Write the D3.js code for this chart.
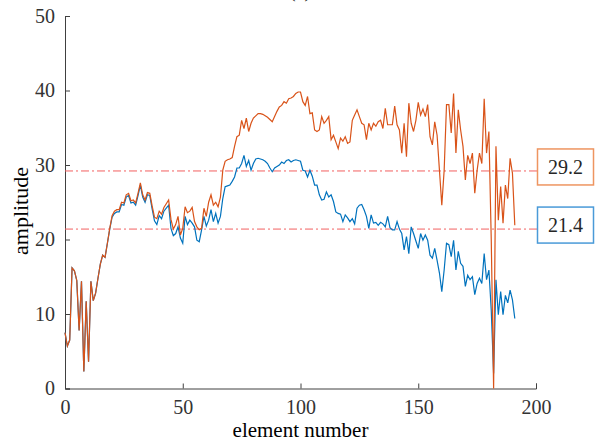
<html>
<head>
<script src="https://d3js.org/d3.v7.min.js"></script>
<style>
  body { margin: 0; background: #fff; }
</style>
</head>
<body>
<div id="chart"></div>
<script>
// amplitude per element (orange = upper curve, blue = lower curve)
var orangeVals = [7.5, 5.7, 6.5, 16.2, 15.8, 14.5, 7.8, 14.4, 2.3, 11.7, 3.6, 14.4, 11.8, 12.8, 14.8, 16.7, 17.9, 17.6, 19.5, 21.5,
  23.2, 23.8, 24.0, 24.0, 25.0, 24.9, 26.0, 26.2, 25.2, 25.3, 24.9, 26.2, 27.6, 26.0, 25.3, 26.3, 26.2, 24.5, 23.0, 22.8,
  23.8, 23.4, 24.3, 24.8, 25.3, 22.7, 21.4, 22.0, 23.1, 20.6, 21.5, 24.4, 23.6, 23.8, 24.3, 22.4, 21.7, 21.3, 21.5, 24.2,
  23.1, 25.0, 26.0, 24.6, 25.0, 24.4, 25.7, 29.3, 30.5, 30.7, 30.8, 31.0, 32.5, 33.8, 34.0, 36.0, 34.9, 36.3, 34.5, 35.6,
  36.3, 36.6, 36.9, 36.9, 36.8, 36.6, 36.4, 36.1, 35.8, 36.5, 37.2, 37.8, 38.0, 38.5, 38.3, 38.9, 39.0, 39.2, 39.6, 39.8,
  39.8, 38.5, 38.0, 39.2, 36.9, 37.0, 34.7, 34.5, 34.7, 36.5, 35.6, 36.0, 36.5, 33.4, 34.0, 33.1, 32.2, 33.6, 33.2, 33.8,
  32.9, 33.1, 36.0, 36.7, 37.4, 36.5, 35.6, 35.4, 33.4, 35.6, 34.7, 35.6, 35.2, 35.8, 36.0, 34.9, 37.6, 35.4, 35.4, 35.4,
  37.9, 35.4, 34.7, 31.6, 35.6, 31.1, 38.3, 35.6, 34.5, 36.0, 38.4, 36.7, 37.5, 36.5, 38.1, 33.8, 32.7, 35.8, 34.0, 29.3,
  24.6, 29.3, 38.1, 38.1, 34.3, 39.6, 31.6, 37.4, 34.7, 32.5, 28.0, 31.3, 30.2, 31.6, 26.2, 29.3, 31.6, 30.2, 38.9, 31.6,
  34.5, 20.0, 0, 32.5, 22.6, 27.1, 22.2, 27.3, 25.5, 30.9, 28.9, 21.9];
var blueVals = [7.5, 5.7, 6.5, 16.2, 15.8, 14.5, 7.8, 14.4, 2.3, 11.7, 3.6, 14.4, 11.8, 12.8, 14.8, 16.7, 17.9, 17.6, 19.5, 21.4,
  23.0, 23.5, 23.7, 23.7, 24.7, 24.6, 25.7, 25.9, 24.9, 25.0, 24.6, 25.9, 27.3, 25.7, 25.0, 26.0, 25.9, 24.1, 22.5, 22.0,
  23.2, 22.8, 23.8, 24.2, 24.6, 21.5, 20.5, 20.8, 21.7, 20.2, 19.5, 23.1, 22.0, 22.6, 22.2, 21.7, 19.9, 19.7, 21.3, 23.1,
  21.8, 22.6, 24.0, 22.4, 23.5, 22.2, 23.1, 25.5, 27.1, 27.2, 27.3, 27.8, 28.4, 29.6, 29.6, 30.2, 31.3, 29.8, 30.6, 29.3,
  30.2, 30.8, 30.9, 30.8, 30.7, 30.5, 30.2, 29.6, 29.1, 29.6, 29.8, 30.0, 30.4, 30.2, 30.6, 30.7, 30.4, 30.6, 30.7, 30.6,
  30.5, 29.3, 29.2, 28.4, 29.3, 28.5, 27.3, 27.3, 26.0, 25.3, 25.4, 26.4, 25.7, 26.0, 25.1, 23.7, 23.5, 23.4, 22.4, 23.3,
  22.9, 22.4, 22.8, 22.1, 24.2, 24.6, 24.7, 24.0, 23.1, 21.5, 23.3, 22.2, 22.3, 21.9, 22.3, 22.1, 21.7, 23.1, 21.6, 21.3,
  21.3, 22.4, 21.4, 20.8, 18.6, 20.4, 18.1, 21.7, 20.8, 19.8, 18.8, 20.8, 19.9, 20.6, 19.9, 17.9, 17.5, 18.8, 17.2, 15.5,
  13.0, 15.9, 19.5, 19.3, 17.7, 19.9, 15.9, 18.4, 16.8, 16.4, 13.7, 15.2, 14.6, 15.0, 12.6, 14.1, 14.8, 14.1, 18.1, 14.6,
  15.9, 10.5, 2.0, 14.6, 9.9, 13.0, 9.9, 12.5, 11.5, 13.2, 11.9, 9.4];
var thresholds = [29.2, 21.4];
var xTicks = [0, 50, 100, 150, 200];
var yTicks = [0, 10, 20, 30, 40, 50];

var width = 595, height = 441;
var margin = { top: 16, right: 59, bottom: 52.5, left: 65 };
var orange = "#D95319", blue = "#0072BD", axisCol = "#404040";
var serif = '"Liberation Serif", "Times New Roman", "DejaVu Serif", serif';

var svg = d3.select("#chart").append("svg")
  .attr("width", width).attr("height", height);

var x = d3.scaleLinear().domain([0, 200]).range([margin.left, width - margin.right]);
var y = d3.scaleLinear().domain([0, 50]).range([height - margin.bottom, margin.top]);

// title, mostly clipped at the top edge (as in the source figure)
svg.append("text").attr("x", 300).attr("y", -3).attr("text-anchor", "middle")
  .style("font-family", serif).style("font-size", "20px").attr("fill", "#262626").text("(a)");

// axes (ticks point inward like MATLAB)
var xAxis = svg.append("g").attr("transform", `translate(0,${y(0)})`)
  .call(d3.axisBottom(x).tickValues(xTicks).tickSize(-5).tickPadding(11));
var yAxis = svg.append("g").attr("transform", `translate(${x(0)},0)`)
  .call(d3.axisLeft(y).tickValues(yTicks).tickSize(-5).tickPadding(10));
[xAxis, yAxis].forEach(function (g) {
  g.select(".domain").attr("stroke", axisCol);
  g.selectAll(".tick line").attr("stroke", axisCol);
  g.selectAll("text").style("font-family", serif).style("font-size", "20px").attr("fill", "#333");
});

svg.append("text").attr("x", x(100)).attr("y", 437).attr("text-anchor", "middle")
  .style("font-family", serif).style("font-size", "21px").attr("fill", "#000").text("element number");
svg.append("text").attr("transform", "translate(28,211) rotate(-90)")
  .attr("text-anchor", "middle").style("font-family", serif).style("font-size", "22px")
  .attr("fill", "#000").text("amplitude");

// threshold lines
svg.selectAll(".thr").data(thresholds).enter().append("line")
  .attr("x1", x(0)).attr("x2", 537)
  .attr("y1", d => y(d)).attr("y2", d => y(d))
  .attr("stroke", "#F26060").attr("stroke-width", 1)
  .attr("stroke-dasharray", "8,3,2,3");

var line = d3.line().x((d, i) => x(i)).y(d => y(d));
svg.append("path").datum(blueVals).attr("d", line)
  .attr("fill", "none").attr("stroke", blue).attr("stroke-width", 1.2);
svg.append("path").datum(orangeVals).attr("d", line)
  .attr("fill", "none").attr("stroke", orange).attr("stroke-width", 1.2);

// value boxes
var boxCols = ["#EE9560", "#4A9AD8"];
thresholds.forEach(function (t, i) {
  var cy = y(t) - 4;
  svg.append("rect").attr("x", 537.5).attr("y", cy - 18).attr("width", 56).attr("height", 36)
    .attr("fill", "#fff").attr("stroke", boxCols[i]).attr("stroke-width", 1.5);
  svg.append("text").attr("x", 565.5).attr("y", cy + 7).attr("text-anchor", "middle")
    .style("font-family", serif).style("font-size", "20px").attr("fill", "#262626").text(t.toFixed(1));
});
</script>
</body>
</html>
